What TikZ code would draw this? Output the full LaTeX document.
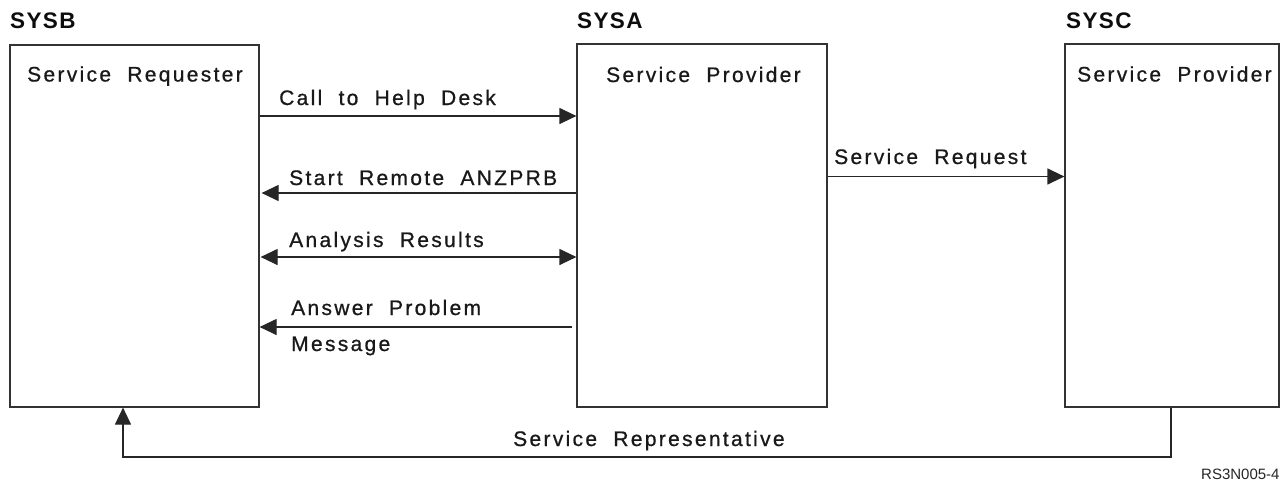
\documentclass[tikz,border=0pt]{standalone}
\usepackage{fontspec}
\setmainfont{Liberation Sans}
\newfontfamily\lblfont{Liberation Sans}[LetterSpace=11,WordSpace=2,FakeBold=0.8]
\newfontfamily\ttlfont{Liberation Sans}[LetterSpace=6]
\usetikzlibrary{arrows.meta,calc}
\tikzset{
  sysbox/.style={draw=black!80, line width=1.2pt, rectangle, inner sep=0pt},
  lbl/.style={anchor=base west, inner sep=0pt, text=black!90, font=\lblfont\fontsize{21}{24}\selectfont},
  ttl/.style={anchor=base west, inner sep=0pt, text=black!95, font=\ttlfont\bfseries\fontsize{22.5}{25}\selectfont},
  tag/.style={anchor=base west, inner sep=0pt, text=black!85, font=\fontsize{15}{17}\selectfont},
  conn/.style={draw=black!85, line width=1.2pt},
  arr/.style={conn, -{Triangle[length=17pt,width=16pt]}},
  darr/.style={conn, {Triangle[length=17pt,width=16pt]}-{Triangle[length=17pt,width=16pt]}},
}
\begin{document}
\begin{tikzpicture}[x=1pt,y=-1pt]
\useasboundingbox (0,0) rectangle (1281,490);
% boxes
\node[sysbox, minimum width=249pt, minimum height=362pt] (B) at (134.5,226) {};
\node[sysbox, minimum width=250pt, minimum height=363pt] (A) at (702,225.5) {};
\node[sysbox, minimum width=214pt, minimum height=363pt] (C) at (1172,225.5) {};
% titles
\node[ttl] (tB) at (10,28) {SYSB};
\node[ttl] (tA) at (577,28) {SYSA};
\node[ttl] (tC) at (1066,28) {SYSC};
% box labels
\node[lbl] (lB) at (27,81.5) {Service Requester};
\node[lbl] (lA) at (606,82) {Service Provider};
\node[lbl] (lC) at (1077,81.5) {Service Provider};
% connectors
\draw[arr] (B.east |- 0,116) -- (A.west |- 0,116);
\node[lbl] (m1) at (279,105) {Call to Help Desk};
\draw[arr] (A.west |- 0,193) -- ($(B.east |- 0,193)+(2,0)$);
\node[lbl] (m2) at (289,185) {Start Remote ANZPRB};
\draw[darr] ($(B.east |- 0,257)+(1,0)$) -- (A.west |- 0,257);
\node[lbl] (m3) at (289,247) {Analysis Results};
\coordinate (ap) at ($(A.west |- 0,327)+(-4,0)$);
\draw[arr] (ap) -- (B.east |- 0,327);
\node[lbl] (m4) at (291,315) {Answer Problem};
\node[lbl] (m5) at (291,351) {Message};
\draw[arr] (A.east |- 0,176.5) -- (C.west |- 0,176.5);
\node[lbl] (m6) at (834,164) {Service Request};
\coordinate (rp) at (123,457);
\draw[arr] ([xshift=-1pt]C.south) |- (rp) -- (B.south -| rp);
\node[lbl] (m7) at (513,446) {Service Representative};
\node[tag] (id) at (1201,479.5) {RS3N005-4};
\end{tikzpicture}
\end{document}
